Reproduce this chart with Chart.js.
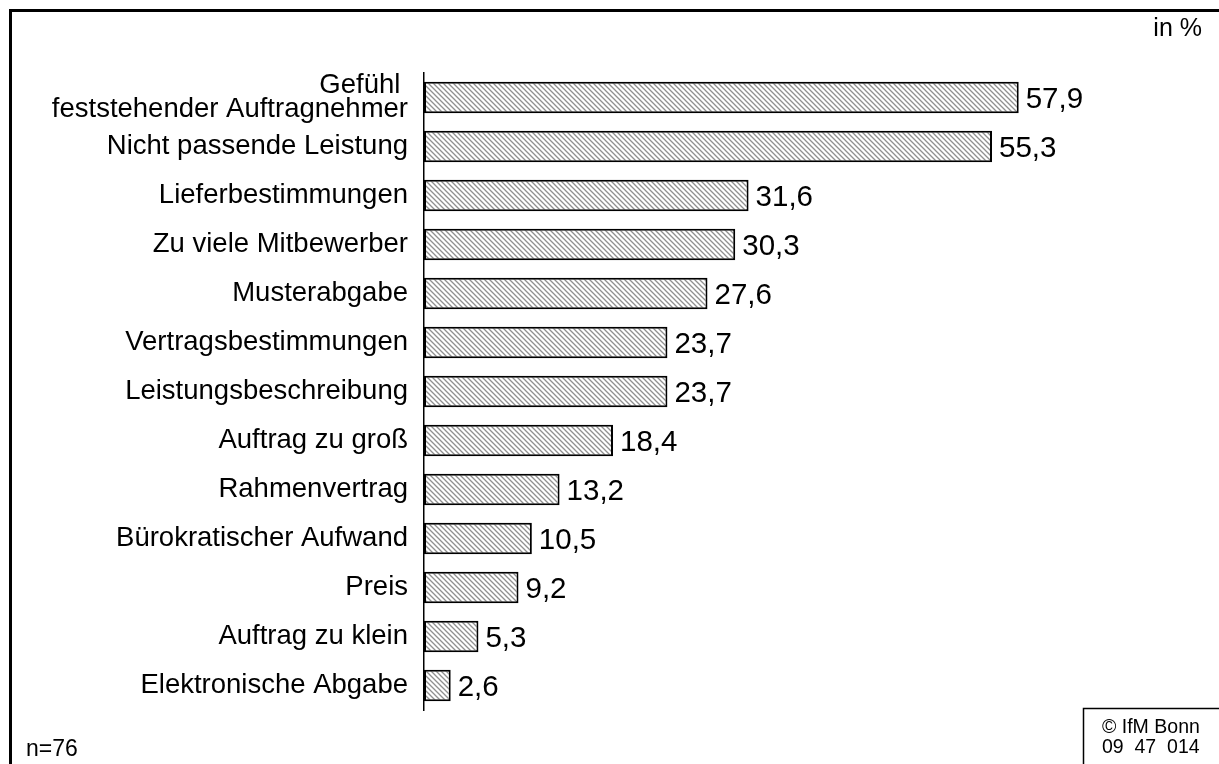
<!DOCTYPE html>
<html>
<head>
<meta charset="utf-8">
<script src="https://cdn.jsdelivr.net/npm/chart.js@4/dist/chart.umd.min.js"></script>
<style>
  body { margin: 0; background: #fff; }
  #wrap { width: 1219px; height: 764px; }
</style>
</head>
<body>
<div id="wrap"><canvas id="myChart" width="1219" height="764"></canvas></div>
<script>
// data
const labels = [
  ['Gefühl ', 'feststehender Auftragnehmer'],
  'Nicht passende Leistung',
  'Lieferbestimmungen',
  'Zu viele Mitbewerber',
  'Musterabgabe',
  'Vertragsbestimmungen',
  'Leistungsbeschreibung',
  'Auftrag zu groß',
  'Rahmenvertrag',
  'Bürokratischer Aufwand',
  'Preis',
  'Auftrag zu klein',
  'Elektronische Abgabe'
];
const values = [57.9, 55.3, 31.6, 30.3, 27.6, 23.7, 23.7, 18.4, 13.2, 10.5, 9.2, 5.3, 2.6];

const unitText = 'in %';
const sampleText = 'n=76';
const sourceLines = ['© IfM Bonn', '09  47  014'];

const FONT = "'Liberation Sans', Arial, sans-serif";

// diagonal hatch fill
function makeHatch() {
    const s = 5;
    const c = document.createElement('canvas');
    c.width = s; c.height = s;
    const g = c.getContext('2d');
    g.fillStyle = '#fff';
    g.fillRect(0, 0, s, s);
    g.strokeStyle = '#909090';
    g.lineWidth = 1.3;
    g.beginPath();
    for (let k = -1; k <= 1; k++) {
        g.moveTo(-1, -1 + k * s);
        g.lineTo(s + 1, s + 1 + k * s);
    }
    g.stroke();
    return g.createPattern(c, 'repeat');
}

const decorations = {
    id: 'decorations',
    afterDatasetsDraw(chart) {
        const ctx = chart.ctx;
        ctx.save();
        // value labels next to bars
        ctx.fillStyle = '#000';
        ctx.font = '29.5px ' + FONT;
        ctx.textAlign = 'left';
        ctx.textBaseline = 'middle';
        chart.getDatasetMeta(0).data.forEach((bar, i) => {
            ctx.fillText(values[i].toFixed(1).replace('.', ','), bar.x + 7, bar.y + 2);
        });
        ctx.restore();
    },
    afterDraw(chart) {
        const ctx = chart.ctx;
        ctx.save();
        // outer frame (top and left edge visible)
        ctx.strokeStyle = '#000';
        ctx.lineWidth = 3;
        ctx.beginPath();
        ctx.moveTo(10.5, 770);
        ctx.lineTo(10.5, 10.5);
        ctx.lineTo(1225, 10.5);
        ctx.stroke();

        ctx.fillStyle = '#000';
        ctx.textBaseline = 'alphabetic';
        ctx.font = '25px ' + FONT;
        ctx.textAlign = 'right';
        ctx.fillText(unitText, 1202, 36);

        ctx.textAlign = 'left';
        ctx.font = '23px ' + FONT;
        ctx.fillText(sampleText, 26, 756);

        // source box
        ctx.lineWidth = 1.5;
        ctx.beginPath();
        ctx.moveTo(1083.5, 770);
        ctx.lineTo(1083.5, 708.5);
        ctx.lineTo(1225, 708.5);
        ctx.stroke();
        ctx.font = '19.5px ' + FONT;
        ctx.fillText(sourceLines[0], 1102, 733);
        ctx.fillText(sourceLines[1], 1102, 753);
        ctx.restore();
    }
};

const config = {
    type: 'bar',
    data: {
        labels: labels,
        datasets: [{
            data: values,
            backgroundColor: makeHatch(),
            borderColor: '#000',
            borderWidth: 2,
            borderSkipped: false,
            barPercentage: 0.64,
            categoryPercentage: 1
        }]
    },
    options: {
        indexAxis: 'y',
        responsive: false,
        animation: false,
        layout: { padding: { top: 73, bottom: 54, left: 0, right: 76 } },
        plugins: {
            legend: { display: false },
            tooltip: { enabled: false }
        },
        scales: {
            x: {
                display: false,
                min: 0,
                max: 70
            },
            y: {
                grid: { display: false, drawTicks: false },
                border: { display: true, color: '#000', width: 1.5 },
                ticks: {
                    color: '#000',
                    padding: 16,
                    crossAlign: 'near',
                    autoSkip: false,
                    font: { family: FONT, size: 27.5, lineHeight: 0.88 }
                },
                afterFit(scale) { scale.width = 424; }
            }
        }
    },
    plugins: [decorations]
};

const myChart = new Chart(document.getElementById('myChart'), config);
</script>
</body>
</html>
